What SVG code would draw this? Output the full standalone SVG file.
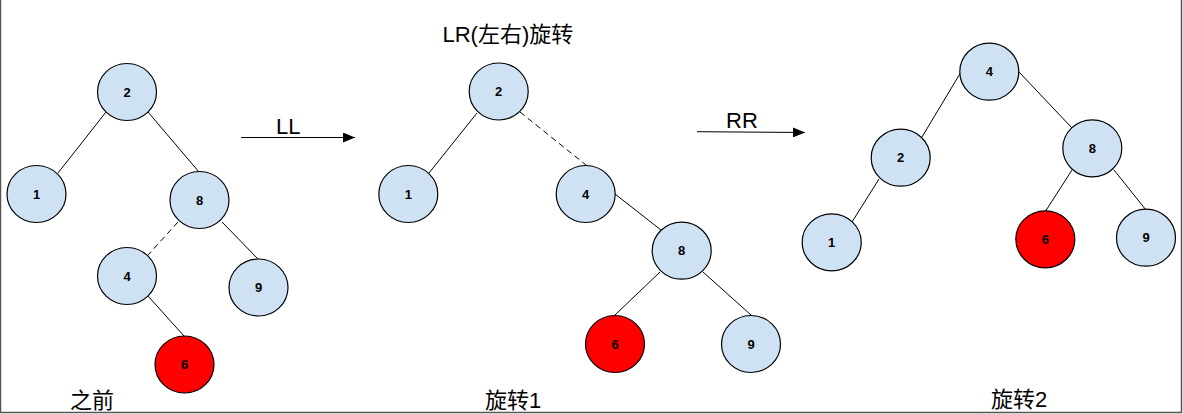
<svg xmlns="http://www.w3.org/2000/svg" width="1183" height="414" viewBox="0 0 1183 414">
<style>
.n ellipse{fill:#cfe2f3;stroke:#000;stroke-width:1.2}
.n.red ellipse{fill:#ff0000}
.n text{font-family:"Liberation Sans",Arial,sans-serif;font-size:13px;font-weight:bold;text-anchor:middle;fill:#000}
.e line{stroke:#000;stroke-width:1}
.e line.d{stroke-dasharray:6 4}
.lbl{font-family:"Liberation Sans",Arial,"Noto Sans CJK SC",sans-serif;font-size:22px;fill:#000}
.arr{stroke:#808080;stroke-width:2;fill:none}
</style>
<defs>
<marker id="ah" markerWidth="12" markerHeight="10" refX="12" refY="5" orient="auto" markerUnits="userSpaceOnUse">
<path d="M0,0 L12,5 L0,10 Z" fill="#000"/>
</marker>
</defs>
<rect width="1183" height="414" fill="#fff"/>
<path d="M0.5,0 V412.5 H1181.5 V0" fill="none" stroke="#555" stroke-width="1.5"/>

<g id="connectors" class="e">
<!-- tree 1 -->
<line x1="106" y1="112" x2="58" y2="173"/>
<line x1="148" y1="112" x2="199" y2="172"/>
<line class="d" x1="178" y1="222" x2="148" y2="255"/>
<line x1="222" y1="222" x2="258" y2="259"/>
<line x1="148" y1="296" x2="184" y2="336"/>
<!-- tree 2 -->
<line x1="477" y1="113" x2="429" y2="173"/>
<line class="d" x1="520" y1="112" x2="586" y2="165"/>
<line x1="615" y1="194" x2="661" y2="230"/>
<line x1="660" y1="272" x2="615" y2="315"/>
<line x1="703" y1="272" x2="751" y2="315"/>
<!-- tree 3 -->
<line x1="961" y1="72" x2="922" y2="137"/>
<line x1="1019" y1="72" x2="1072" y2="128"/>
<line x1="879" y1="179" x2="852" y2="222"/>
<line x1="1072" y1="170" x2="1045" y2="212"/>
<line x1="1114" y1="170" x2="1146" y2="210"/>
<!-- arrows -->
<line class="arr" x1="241" y1="137.5" x2="355" y2="137.5" marker-end="url(#ah)"/>
<line class="arr" x1="697" y1="131.7" x2="805" y2="132.5" marker-end="url(#ah)"/>
</g>

<g id="t1-2" class="n"><ellipse cx="127" cy="92" rx="29.5" ry="28.5"/><text x="127" y="96.5">2</text></g>
<g id="t1-1" class="n"><ellipse cx="36.5" cy="194" rx="29.5" ry="28.5"/><text x="36.5" y="198.5">1</text></g>
<g id="t1-8" class="n"><ellipse cx="199.5" cy="200" rx="29.5" ry="28.5"/><text x="199.5" y="204.5">8</text></g>
<g id="t1-4" class="n"><ellipse cx="127" cy="276" rx="29.5" ry="28.5"/><text x="127" y="280.5">4</text></g>
<g id="t1-9" class="n"><ellipse cx="258.5" cy="287.5" rx="29.5" ry="28.5"/><text x="258.5" y="292">9</text></g>
<g id="t1-6" class="n red"><ellipse cx="184.5" cy="364.5" rx="29.5" ry="28.5"/><text x="184.5" y="369">6</text></g>

<g id="t2-2" class="n"><ellipse cx="498.7" cy="91.5" rx="29.5" ry="28.5"/><text x="498.7" y="96">2</text></g>
<g id="t2-1" class="n"><ellipse cx="408.3" cy="194" rx="29.5" ry="28.5"/><text x="408.3" y="198.5">1</text></g>
<g id="t2-4" class="n"><ellipse cx="585.7" cy="194" rx="29.5" ry="28.5"/><text x="585.7" y="198.5">4</text></g>
<g id="t2-8" class="n"><ellipse cx="681.7" cy="250.7" rx="29.5" ry="28.5"/><text x="681.7" y="255.2">8</text></g>
<g id="t2-6" class="n red"><ellipse cx="615" cy="344" rx="29.5" ry="28.5"/><text x="615" y="348.5">6</text></g>
<g id="t2-9" class="n"><ellipse cx="751" cy="344" rx="29.5" ry="28.5"/><text x="751" y="348.5">9</text></g>

<g id="t3-4" class="n"><ellipse cx="989.3" cy="71.7" rx="29.5" ry="28.5"/><text x="989.3" y="76.2">4</text></g>
<g id="t3-2" class="n"><ellipse cx="900.7" cy="157.7" rx="29.5" ry="28.5"/><text x="900.7" y="162.2">2</text></g>
<g id="t3-1" class="n"><ellipse cx="831.7" cy="242.3" rx="29.5" ry="28.5"/><text x="831.7" y="246.8">1</text></g>
<g id="t3-8" class="n"><ellipse cx="1092.3" cy="148.3" rx="29.5" ry="28.5"/><text x="1092.3" y="152.8">8</text></g>
<g id="t3-6" class="n red"><ellipse cx="1045.3" cy="239.3" rx="29.5" ry="28.5"/><text x="1045.3" y="243.8">6</text></g>
<g id="t3-9" class="n"><ellipse cx="1146" cy="237.7" rx="29.5" ry="28.5"/><text x="1146" y="242.2">9</text></g>

<g id="labels">
<text class="lbl" x="276" y="134">LL</text>
<text class="lbl" x="726" y="127.7">RR</text>
<text class="lbl" x="442.5" y="41.7">LR(左右)旋转</text>
<text class="lbl" x="70" y="408">之前</text>
<text class="lbl" x="485" y="408">旋转1</text>
<text class="lbl" x="991" y="407">旋转2</text>
</g>
</svg>
